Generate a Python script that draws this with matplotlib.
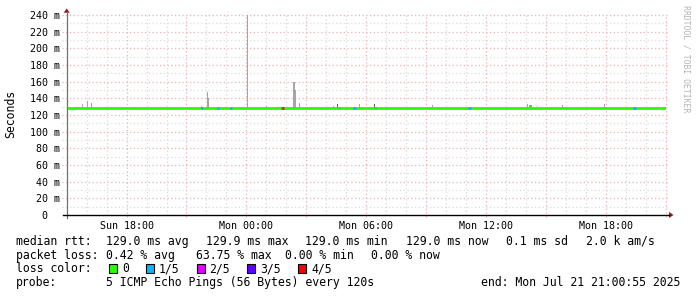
import matplotlib
matplotlib.use("Agg")
import matplotlib.pyplot as plt
import matplotlib.dates as mdates
import pandas as pd
from matplotlib.lines import Line2D
from matplotlib.patches import Polygon, Rectangle

plt.rcParams['font.family'] = ['DejaVu Sans Mono', 'DejaVu Sans']

# time window of the graph
t_start = "2025-07-20 15:00:55"
t_end = "2025-07-21 21:00:55"

# median rtt (ms), mostly flat
median_rtt = 129.0

# small deviations of the median
dev_from = ["2025-07-21 14:10"]
dev_to = ["2025-07-21 14:19"]
dev_value = [130.8]

# smoke: spread of the pings above the median (ms)
smoke_time = ["2025-07-20 15:46", "2025-07-20 16:04", "2025-07-20 16:16",
              "2025-07-20 21:46", "2025-07-20 22:04", "2025-07-20 22:07",
              "2025-07-21 00:04", "2025-07-21 01:01", "2025-07-21 02:22",
              "2025-07-21 02:25", "2025-07-21 02:28", "2025-07-21 02:40",
              "2025-07-21 04:22", "2025-07-21 04:34", "2025-07-21 05:40",
              "2025-07-21 06:25", "2025-07-21 09:19", "2025-07-21 14:04",
              "2025-07-21 15:49", "2025-07-21 17:55"]
smoke_top = [133, 136.5, 134, 131, 148, 140, 240, 131, 160, 160, 150, 134,
             131, 132.7, 133, 133, 132, 133, 132, 132.7]
smoke_dark = [0, 0, 0, 0, 0, 0, 0, 0, 0, 0, 0, 0,
              0, 1, 0, 1, 0, 0, 0, 0]

# packet loss colouring of the median line (level = lost pings of 5)
loss_from = ["2025-07-20 21:43", "2025-07-20 22:31", "2025-07-20 23:10",
             "2025-07-21 01:43", "2025-07-21 01:46", "2025-07-21 04:34",
             "2025-07-21 05:19", "2025-07-21 06:25", "2025-07-21 11:07",
             "2025-07-21 19:22"]
loss_to = ["2025-07-20 21:49", "2025-07-20 22:37", "2025-07-20 23:16",
           "2025-07-21 01:46", "2025-07-21 01:52", "2025-07-21 04:37",
           "2025-07-21 05:28", "2025-07-21 06:28", "2025-07-21 11:16",
           "2025-07-21 19:31"]
loss_level = [1, 1, 1, 2, 4, 1, 1, 1, 1, 1]

loss_labels = ["0", "1/5", "2/5", "3/5", "4/5"]
loss_colors = ["#26ff00", "#00b8ff", "#dd00ff", "#5e00ff", "#ff0000"]

yticks = [0, 20, 40, 60, 80, 100, 120, 140, 160, 180, 200, 220, 240]

stats_rtt = ["129.0 ms avg", "129.9 ms max", "129.0 ms min",
             "129.0 ms now", "0.1 ms sd", "2.0 k am/s"]
stats_loss = ["0.42 % avg", "63.75 % max", "0.00 % min", "0.00 % now"]
probe_text = "5 ICMP Echo Pings (56 Bytes) every 120s"
end_text = "end: Mon Jul 21 21:00:55 2025"

W, H = 697, 297


def fx(px):
    return px / W


def fy(py):
    return 1 - py / H


def num(times):
    return mdates.date2num(pd.to_datetime(times))


fig = plt.figure(figsize=(W / 100, H / 100), dpi=100)
fig.patch.set_facecolor("white")
ax = fig.add_axes([fx(67), fy(215), 599 / W, 200 / H])

x0, x1 = num([t_start, t_end])
ax.set_xlim(x0, x1)
ax.set_ylim(0, 240)
for s in ax.spines.values():
    s.set_visible(False)

# grid (dotted, rrdtool style)
grid_major = "#eab2b2"
grid_minor = "#dadada"
dots = (0, (1, 2))
hours = pd.date_range(pd.Timestamp(t_start).ceil("h"), t_end, freq="h")
xt = ax.get_xaxis_transform()
yt = ax.get_yaxis_transform()
for h in hours:
    hx = mdates.date2num(h)
    if h.hour % 3 == 0:
        ax.vlines(hx, -0.01, 1, transform=xt, colors=grid_major,
                  linestyles=dots, lw=0.9, clip_on=False, zorder=1)
    else:
        ax.vlines(hx, 0, 1, transform=xt, colors=grid_minor,
                  linestyles=dots, lw=0.9, clip_on=False, zorder=0.9)
for v in range(10, 241, 10):
    c = grid_major if v % 20 == 0 else grid_minor
    ax.hlines(v, -0.008, 1.004, transform=yt, colors=c, linestyles=dots,
              lw=0.9, clip_on=False, zorder=1 if v % 20 == 0 else 0.9)

# smoke
st = num(smoke_time)
width = 3 / 1440
for t, top, dark in zip(st, smoke_top, smoke_dark):
    ax.bar(t, top - median_rtt, bottom=median_rtt, width=width,
           color="#5a5f63" if dark else "#a6a6a6", linewidth=0, zorder=2)

# median line coloured by loss
ax.hlines(median_rtt, x0, x1, colors=loss_colors[0], lw=2.0,
          capstyle="butt", zorder=3)
for a, b, v in zip(num(dev_from), num(dev_to), dev_value):
    ax.add_patch(Rectangle((a, median_rtt), b - a, v - median_rtt + 0.8,
                           color=loss_colors[0], lw=0, zorder=3))
for a, b, lv in zip(num(loss_from), num(loss_to), loss_level):
    ax.hlines(median_rtt, a, b, colors=loss_colors[lv], lw=2.0,
              capstyle="butt", zorder=4)

# ticks
ax.xaxis.set_major_locator(mdates.HourLocator(byhour=[0, 6, 12, 18]))
ax.xaxis.set_major_formatter(mdates.DateFormatter("%a %H:%M"))
ax.set_yticks(yticks)
ax.set_yticklabels([f"{v} m" if v else "0  " for v in yticks])
ax.tick_params(axis="both", length=0, labelsize=7.2, colors="black")
ax.tick_params(axis="y", pad=5)
ax.tick_params(axis="x", pad=4)

fig.text(fx(11), fy(114), "Seconds", rotation=90, ha="center", va="center",
         fontsize=8.3)

# axis lines and arrows
arrow_c = "#8b1c1c"
fig.add_artist(Line2D([fx(66.7), fx(66.7)], [fy(217.5), fy(12.5)],
                      color="#707070", lw=0.9))
fig.add_artist(Line2D([fx(63), fx(669)], [fy(215), fy(215)],
                      color="black", lw=1.0))
fig.add_artist(Polygon([(fx(63.7), fy(12.7)), (fx(69.7), fy(12.7)),
                        (fx(66.7), fy(8.5))], closed=True, color=arrow_c,
                       lw=0))
fig.add_artist(Polygon([(fx(669), fy(212)), (fx(669), fy(218)),
                        (fx(673.5), fy(215))], closed=True, color=arrow_c,
                       lw=0))

fig.text(fx(686), fy(59), "RRDTOOL / TOBI OETIKER", rotation=270,
         ha="center", va="center", fontsize=5.9, color="#b4b4b4")

# legend block
fs = 8.3
rows = [245, 258.7, 272.3, 286]
fig.text(fx(15.5), fy(rows[0]), "median rtt:", fontsize=fs, va="baseline")
for xp, s in zip([105.8, 205.8, 305, 406.5, 505.5, 585.5], stats_rtt):
    fig.text(fx(xp), fy(rows[0]), s, fontsize=fs, va="baseline")
fig.text(fx(15.5), fy(rows[1]), "packet loss:", fontsize=fs, va="baseline")
for xp, s in zip([106, 195.5, 285, 371], stats_loss):
    fig.text(fx(xp), fy(rows[1]), s, fontsize=fs, va="baseline")
fig.text(fx(15.5), fy(rows[2]), "loss color:", fontsize=fs, va="baseline")
for bx, tx, lab, col in zip([108.7, 145.7, 196.7, 247, 298],
                            [122, 159, 209.5, 260.7, 311.5],
                            loss_labels, loss_colors):
    fig.add_artist(Rectangle((fx(bx), fy(273.3)), 8 / W, 9 / H,
                             facecolor=col, edgecolor="black", lw=0.8))
    fig.text(fx(tx), fy(rows[2]), lab, fontsize=fs, va="baseline")
fig.text(fx(15.5), fy(rows[3]), "probe:", fontsize=fs, va="baseline")
fig.text(fx(106), fy(rows[3]), probe_text, fontsize=fs, va="baseline")
fig.text(fx(680.5), fy(rows[3]), end_text, fontsize=fs, va="baseline",
         ha="right")

fig.savefig("out.png", dpi=100)
